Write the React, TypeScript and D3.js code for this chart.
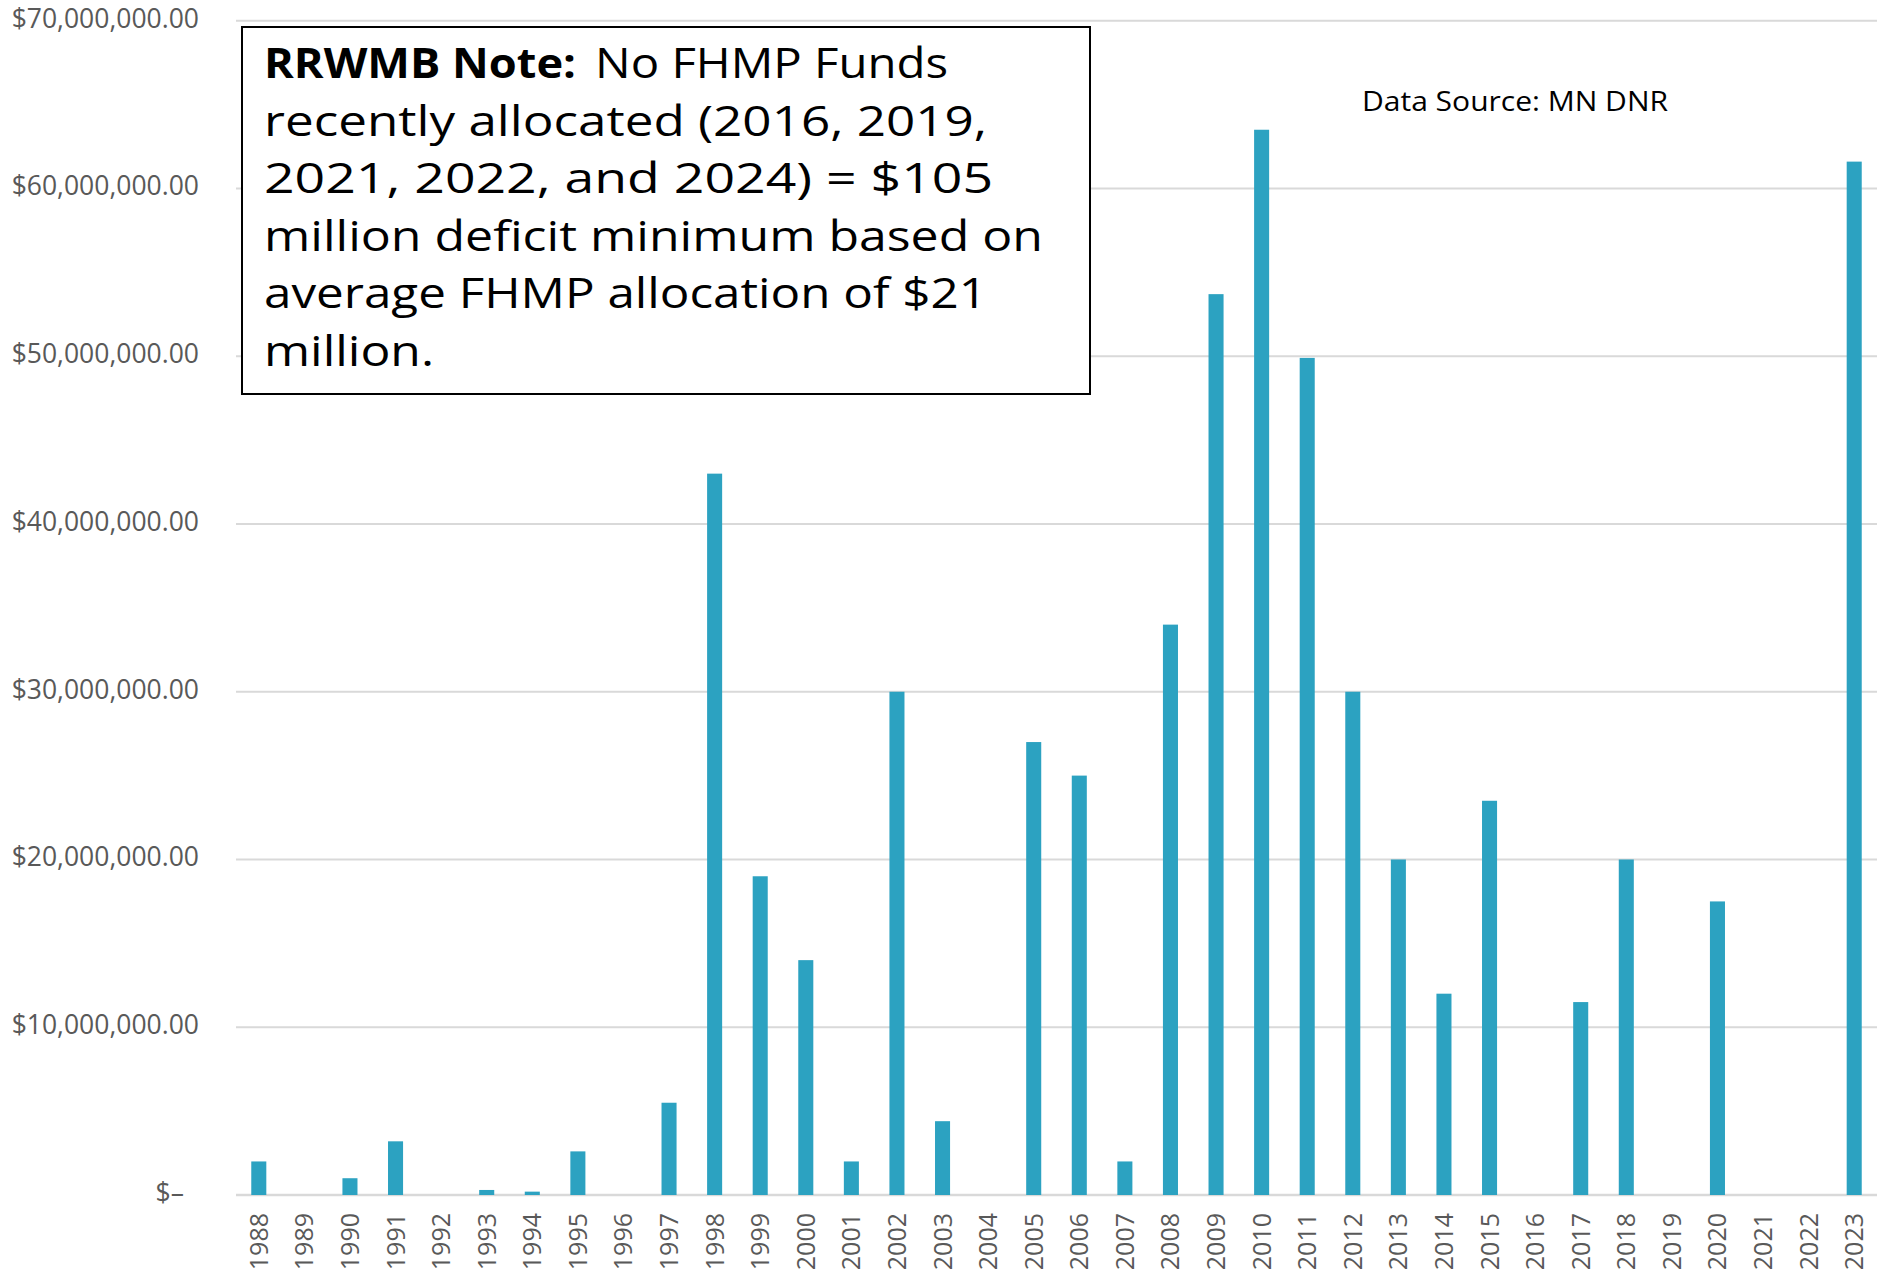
import React from 'react';
import * as d3 from 'd3';

// FHMP allocation per year (millions of dollars)
const years = [
  '1988', '1989', '1990', '1991', '1992', '1993', '1994', '1995', '1996', '1997',
  '1998', '1999', '2000', '2001', '2002', '2003', '2004', '2005', '2006', '2007',
  '2008', '2009', '2010', '2011', '2012', '2013', '2014', '2015', '2016', '2017',
  '2018', '2019', '2020', '2021', '2022', '2023'
];
const allocations = [
  2.0, 0, 1.0, 3.2, 0, 0.3, 0.2, 2.6, 0, 5.5,
  43.0, 19.0, 14.0, 2.0, 30.0, 4.4, 0, 27.0, 25.0, 2.0,
  34.0, 53.7, 63.5, 49.9, 30.0, 20.0, 12.0, 23.5, 0, 11.5,
  20.0, 0, 17.5, 0, 0, 61.6
];
const yTicks = [0, 10e6, 20e6, 30e6, 40e6, 50e6, 60e6, 70e6];

const noteBold = 'RRWMB Note:';
const noteLines = [
  'No FHMP Funds',
  'recently allocated (2016, 2019,',
  '2021, 2022, and 2024) = $105',
  'million deficit minimum based on',
  'average FHMP allocation of $21',
  'million.'
];
const sourceText = 'Data Source: MN DNR';

const W = 1881;
const H = 1273;
const left = 236;
const right = 1877;
const top = 20.7;
const bottom = 1195;

const barColor = '#2ca2c1';
const gridColor = '#d9d9d9';
const labelColor = '#595959';
const font = '"Open Sans", sans-serif';

const fmt = (v: number) => (v === 0 ? '$–' : '$' + d3.format(',.2f')(v));

export default function App() {
  const data = years.map((y, i) => ({ year: y, value: allocations[i] * 1e6 }));

  const x = d3.scaleBand<string>()
    .domain(years)
    .range([left, right])
    .paddingInner(0.67)
    .paddingOuter(0.335);

  const y = d3.scaleLinear().domain([0, 70e6]).range([bottom, top]);

  const lineWidths = [353, 723, 729, 779, 723, 170];
  const noteX = 264;
  const lineH = 57.6;
  const firstBase = 78;
  const noteSize = 42;

  return (
    <svg
      width={W}
      height={H}
      style={{ position: 'absolute', left: 0, top: 0, background: '#fff' }}
    >
      <rect x={0} y={0} width={W} height={H} fill="#fff" />

      {/* grid */}
      {yTicks.map(t => (
        <line
          key={'g' + t}
          x1={left}
          x2={right}
          y1={y(t)}
          y2={y(t)}
          stroke={gridColor}
          strokeWidth={t === 0 ? 2.5 : 2}
        />
      ))}

      {/* y labels */}
      {yTicks.map(t => (
        <text
          key={'l' + t}
          x={t === 0 ? 184 : 199}
          y={y(t) + 7}
          textAnchor="end"
          fontFamily={font}
          fontSize={26.5}
          fill={labelColor}
        >
          {fmt(t)}
        </text>
      ))}

      {/* bars */}
      {data.map(d => (
        <rect
          key={d.year}
          x={x(d.year)}
          y={y(d.value)}
          width={x.bandwidth()}
          height={bottom - y(d.value)}
          fill={barColor}
        />
      ))}

      {/* x labels */}
      {years.map(yr => {
        const cx = (x(yr) as number) + x.bandwidth() / 2;
        return (
          <text
            key={'x' + yr}
            transform={`translate(${cx},1213) rotate(-90)`}
            textAnchor="end"
            dy="0.36em"
            fontFamily={font}
            fontSize={25}
            fill={labelColor}
          >
            {yr}
          </text>
        );
      })}

      {/* note box */}
      <rect x={242} y={27} width={848} height={367} fill="#fff" stroke="#000" strokeWidth={2} />
      <text
        x={noteX}
        y={firstBase}
        fontFamily={font}
        fontSize={noteSize}
        fontWeight="bold"
        textLength={312}
        lengthAdjust="spacingAndGlyphs"
        fill="#000"
      >
        {noteBold}
      </text>
      {noteLines.map((ln, i) => (
        <text
          key={'n' + i}
          x={i === 0 ? 595 : noteX}
          y={firstBase + i * lineH}
          fontFamily={font}
          fontSize={noteSize}
          textLength={lineWidths[i]}
          lengthAdjust="spacingAndGlyphs"
          fill="#000"
        >
          {ln}
        </text>
      ))}

      <text x={1362} y={111} fontFamily={font} fontSize={28} textLength={306} lengthAdjust="spacingAndGlyphs" fill="#000">
        {sourceText}
      </text>
    </svg>
  );
}
